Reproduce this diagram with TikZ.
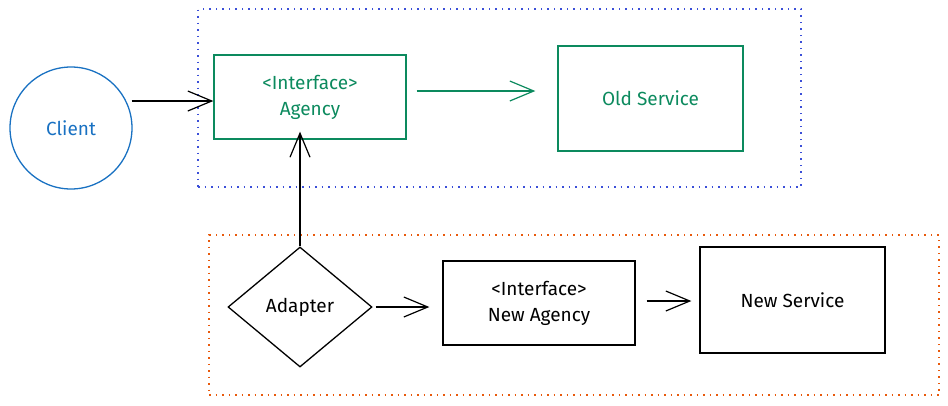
\documentclass[tikz,border=0pt]{standalone}
\usepackage{fontspec}
\setmainfont{Fira Sans}
\usetikzlibrary{arrows.meta,shapes.geometric}
\definecolor{cblue}{HTML}{1971C2}
\definecolor{cgreen}{HTML}{0C8A5E}
\definecolor{cdot}{HTML}{3B4FD8}
\definecolor{cred}{HTML}{E8590C}
\tikzset{
  lbl/.style={font=\fontsize{19}{26}\selectfont, align=center},
  box/.style={draw, line width=1.3pt, rectangle, inner sep=0pt, lbl},
  gbox/.style={box, draw=cgreen, text=cgreen},
  kbox/.style={box, draw=black, text=black},
  conn/.style={line width=1.3pt, -{Straight Barb[length=24pt,width=20pt,line width=1.2pt]}},
  frame/.style={line width=1.5pt, dash pattern=on 1.5pt off 5pt, rectangle, inner sep=0pt}
}
\begin{document}
\begin{tikzpicture}[x=1pt,y=-1pt]
\useasboundingbox (0,0) rectangle (948,405);
% groups
\node[frame, draw=cdot, minimum width=603pt, minimum height=178pt] (gold) at (499.5,98) {};
\node[frame, draw=cred, minimum width=730pt, minimum height=160pt] (gnew) at (574,315) {};
% nodes
\node[circle, draw=cblue, line width=1.3pt, minimum size=122pt, inner sep=0pt, lbl, text=cblue] (client) at (71,128) {Client};
\node[gbox, minimum width=192pt, minimum height=84pt] (agency) at (310,97) {<Interface>\\Agency};
\node[gbox, minimum width=185pt, minimum height=105pt] (old) at (650.5,98.5) {Old Service};
\node[diamond, draw, line width=1.3pt, minimum width=144pt, minimum height=120pt, inner sep=0pt, lbl] (adapter) at (300,307) {Adapter};
\node[kbox, minimum width=192pt, minimum height=84pt] (newag) at (539,303) {<Interface>\\New Agency};
\node[kbox, minimum width=185pt, minimum height=106pt] (newsv) at (792.5,300) {New Service};
% connectors
\draw[conn] (client.east |- 0,101) ++(-1,0) coordinate (c1) -- (agency.west |- c1);
\draw[conn, draw=cgreen] ([xshift=10pt]agency.east |- 0,91) coordinate (a1) -- ([xshift=-22pt]old.west |- a1);
\draw[conn] (adapter.north) -- ([yshift=8pt]agency.south -| adapter.north);
\draw[conn] ([xshift=3pt]adapter.east) -- ([xshift=-13pt]newag.west |- adapter.east);
\draw[conn] ([xshift=11pt]newag.east |- 0,301) coordinate (n1) -- ([xshift=-8pt]newsv.west |- n1);
\end{tikzpicture}
\end{document}
